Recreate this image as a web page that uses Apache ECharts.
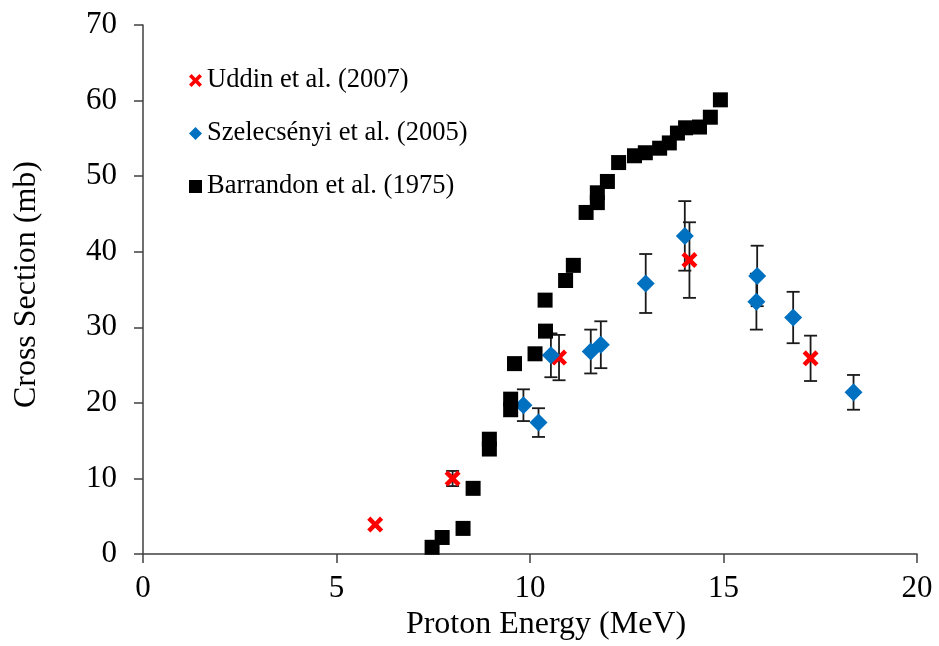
<!DOCTYPE html>
<html>
<head>
<meta charset="utf-8">
<script src="https://cdn.jsdelivr.net/npm/echarts@6/dist/echarts.min.js"></script>
<style>
  html, body { margin: 0; padding: 0; background: #fff; }
  #chart { width: 939px; height: 646px; }
</style>
</head>
<body>
<div id="chart"></div>
<script>
  // Uddin et al. (2007)
  const uddinX = [6.0, 8.0, 10.75, 14.12, 17.25]
  const uddinY = [3.9, 10.0, 26.0, 38.9, 25.9]
  const uddinErr = [0, 1.0, 3.0, 5.0, 3.0]

  // Szelecsényi et al. (2005)
  const szeX = [9.83, 10.22, 10.54, 11.57, 11.83, 12.99, 14.0, 15.87, 15.85, 16.8, 18.36]
  const szeY = [19.7, 17.4, 26.3, 26.8, 27.7, 35.8, 42.1, 36.8, 33.4, 31.3, 21.4]
  const szeErr = [2.1, 1.9, 2.9, 2.9, 3.1, 3.9, 4.6, 4.0, 3.7, 3.4, 2.3]

  // Barrandon et al. (1975)
  const barX = [7.47, 7.73, 8.27, 8.53, 8.95, 8.95, 9.5, 9.5, 9.6, 10.13, 10.4, 10.39, 10.92, 11.12,
    11.45, 11.74, 11.74, 12.0, 12.29, 12.7, 12.98, 13.35, 13.6, 13.81, 14.02, 14.38, 14.66, 14.92]
  const barY = [0.9, 2.2, 3.4, 8.7, 13.9, 15.2, 19.1, 20.5, 25.2, 26.5, 29.5, 33.6, 36.2, 38.2,
    45.2, 46.5, 47.8, 49.3, 51.8, 52.7, 53.1, 53.7, 54.4, 55.7, 56.4, 56.5, 57.8, 60.1]

  const seriesNames = ['Uddin et al. (2007)', 'Szelecsényi et al. (2005)', 'Barrandon et al. (1975)']

  const font = 'Liberation Serif, Times New Roman, serif'
  const crossPath = 'path://M2,0 L5,3 L8,0 L10,2 L7,5 L10,8 L8,10 L5,7 L2,10 L0,8 L3,5 L0,2 Z'

  function pairs(xs, ys) {
    return xs.map((x, i) => [x, ys[i]])
  }
  function errRows(xs, ys, es) {
    return xs.map((x, i) => [x, ys[i], es[i]]).filter(r => r[2] > 0)
  }

  // vertical error bar with caps
  function renderErr(params, api) {
    const x = api.value(0)
    const y = api.value(1)
    const e = api.value(2)
    const top = api.coord([x, y + e])
    const bot = api.coord([x, y - e])
    const hw = 6.5
    const style = { stroke: '#1a1a1a', lineWidth: 1.8 }
    return {
      type: 'group',
      children: [
        { type: 'line', shape: { x1: top[0], y1: top[1], x2: bot[0], y2: bot[1] }, style: style },
        { type: 'line', shape: { x1: top[0] - hw, y1: top[1], x2: top[0] + hw, y2: top[1] }, style: style },
        { type: 'line', shape: { x1: bot[0] - hw, y1: bot[1], x2: bot[0] + hw, y2: bot[1] }, style: style }
      ]
    }
  }

  const chart = echarts.init(document.getElementById('chart'))

  chart.setOption({
    animation: false,
    backgroundColor: '#fff',
    grid: {
      left: 143,
      right: 22,
      top: 25,
      bottom: 90
    },
    legend: {
      data: seriesNames,
      orient: 'vertical',
      left: 184,
      top: 62,
      itemGap: 26,
      itemWidth: 13,
      itemHeight: 13,
      textStyle: {
        fontFamily: font,
        fontSize: 26.5,
        color: '#000'
      }
    },
    xAxis: {
      type: 'value',
      min: 0,
      max: 20,
      interval: 5,
      name: 'Proton Energy (MeV)',
      nameLocation: 'middle',
      nameGap: 48,
      nameTextStyle: {
        fontFamily: font,
        fontSize: 32,
        color: '#000',
        padding: [0, 0, 0, 32]
      },
      axisLine: { lineStyle: { color: '#404040', width: 1.5 } },
      axisTick: { show: true, inside: false, length: 9, lineStyle: { color: '#404040', width: 1.5 } },
      axisLabel: { fontFamily: font, fontSize: 31, color: '#000', margin: 19 },
      splitLine: { show: false }
    },
    yAxis: {
      type: 'value',
      min: 0,
      max: 70,
      interval: 10,
      name: 'Cross Section (mb)',
      nameLocation: 'middle',
      nameGap: 100,
      nameTextStyle: {
        fontFamily: font,
        fontSize: 32,
        color: '#000',
        padding: [0, 0, 0, 10]
      },
      axisLine: { show: true, lineStyle: { color: '#404040', width: 1.5 } },
      axisTick: { show: true, inside: false, length: 9, lineStyle: { color: '#404040', width: 1.5 } },
      axisLabel: { fontFamily: font, fontSize: 31, color: '#000', margin: 26 },
      splitLine: { show: false }
    },
    series: [
      {
        type: 'custom',
        renderItem: renderErr,
        data: errRows(uddinX, uddinY, uddinErr),
        encode: { x: 0, y: 1 },
        z: 1,
        silent: true
      },
      {
        type: 'custom',
        renderItem: renderErr,
        data: errRows(szeX, szeY, szeErr),
        encode: { x: 0, y: 1 },
        z: 1,
        silent: true
      },
      {
        name: seriesNames[0],
        type: 'scatter',
        symbol: crossPath,
        symbolSize: 16,
        itemStyle: { color: '#FF0000', opacity: 1 },
        data: pairs(uddinX, uddinY),
        z: 2
      },
      {
        name: seriesNames[1],
        type: 'scatter',
        symbol: 'diamond',
        symbolSize: 18,
        itemStyle: { color: '#0070C0', opacity: 1 },
        data: pairs(szeX, szeY),
        z: 3
      },
      {
        name: seriesNames[2],
        type: 'scatter',
        symbol: 'rect',
        symbolSize: 15,
        itemStyle: { color: '#000000', opacity: 1 },
        data: pairs(barX, barY),
        z: 4
      }
    ]
  })
</script>
</body>
</html>
